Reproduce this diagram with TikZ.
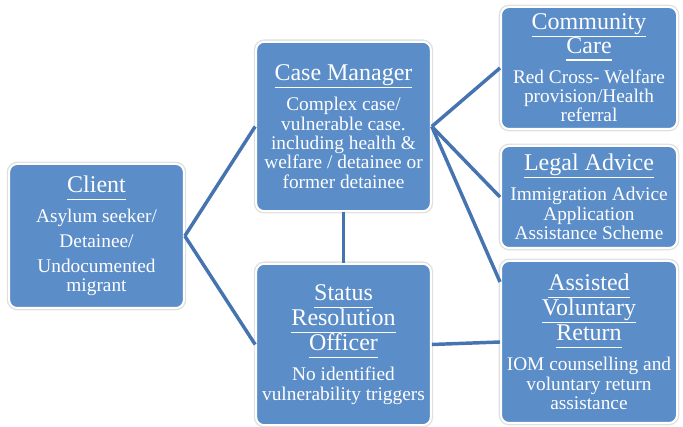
\documentclass[tikz,border=0pt]{standalone}
\usepackage{fontspec}
\setmainfont{Liberation Serif}
\definecolor{boxblue}{RGB}{91,141,200}
\definecolor{lineblue}{RGB}{70,116,176}
\newcommand{\hd}[1]{{\fontsize{18}{14}\selectfont\leavevmode\vtop{\hbox{#1\vphantom{g}}\kern0.8pt\hrule height 0.9pt}}}
\begin{document}
\begin{tikzpicture}[x=0.75pt,y=-0.75pt,
        box/.style={rectangle,rounded corners=6pt,fill=boxblue,draw=white,line width=1.5pt,
            preaction={draw=black!12,line width=3.5pt},text=white,align=center,inner sep=0pt,
            font={\fontsize{14.5}{14.5}\selectfont\lineskiplimit=-100pt}},
        link/.style={draw=lineblue,line width=2.6pt}]
    \useasboundingbox (0,0) rectangle (683,427);
    \node[box,minimum width=131pt,minimum height=108pt] (client) at (96.5,236)
        {\hd{Client}\\[8pt]Asylum seeker/\\[4.25pt]Detainee/\\[4.25pt]Undocumented\\migrant};
    \node[box,minimum width=131pt,minimum height=127pt] (manager) at (343.5,126.5)
        {\hd{Case Manager}\\[8pt]Complex case/\\vulnerable case.\\including health \&\\welfare / detainee or\\former detainee};
    \node[box,minimum width=131pt,minimum height=121pt] (officer) at (343.5,344.5)
        {\hd{Status}\\[4.25pt]\hd{Resolution}\\[4.25pt]\hd{Officer}\\[8pt]No identified\\vulnerability triggers};
    \node[box,minimum width=132pt,minimum height=91.5pt] (care) at (589,68)
        {\hd{Community}\\[3pt]\hd{Care}\\[8pt]Red Cross- Welfare\\provision/Health\\referral};
    \node[box,minimum width=132pt,minimum height=76.5pt] (legal) at (589,197)
        {\hd{Legal Advice}\\[8pt]Immigration Advice\\Application\\Assistance Scheme};
    \node[box,minimum width=132pt,minimum height=121.5pt] (avr) at (589,342)
        {\hd{Assisted}\\[4.25pt]\hd{Voluntary}\\[4.25pt]\hd{Return}\\[8pt]IOM counselling and\\voluntary return\\assistance};
    \foreach \from/\to in {client.east/manager.west, client.east/officer.west, manager.south/officer.north,
            manager.east/care.west, manager.east/legal.west, manager.east/avr.146, officer.east/avr.west}
        \draw[link] (\from) -- (\to);
\end{tikzpicture}
\end{document}
